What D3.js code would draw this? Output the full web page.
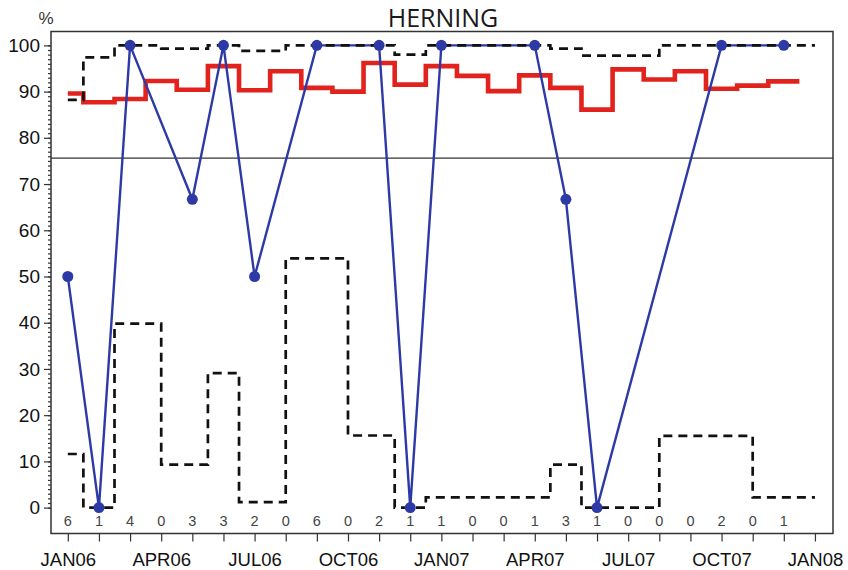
<!DOCTYPE html>
<html>
<head>
<meta charset="utf-8">
<script src="https://cdn.jsdelivr.net/npm/d3@7"></script>
<style>
  html, body { margin: 0; padding: 0; background: #fff; }
  svg { display: block; }
  text { font-family: "Liberation Sans", Arial, sans-serif; }
</style>
</head>
<body>
<svg id="chart" width="848" height="570"></svg>
<script>
// ---------- DATA ----------
const title = "HERNING";
const yUnit = "%";
const tickLabels = ["JAN06","APR06","JUL06","OCT06","JAN07","APR07","JUL07","OCT07","JAN08"];
// one entry per month, Jan 2006 .. Dec 2007
const counts   = [6,1,4,0,3,3,2,0,6,0,2,1, 1,0,0,1,3,1,0,0,0,2,0,1];
const observed = [50,0,100,null,66.7,100,50,null,100,null,100,0, 100,null,null,100,66.7,0,null,null,null,100,null,100];
const centre   = [89.6,87.7,88.4,92.3,90.4,95.5,90.3,94.4,90.8,90.0,96.2,91.5, 95.5,93.4,90.1,93.5,90.8,86.1,94.8,92.6,94.4,90.6,91.3,92.2];
const upper    = [88.2,97.4,100,null,99.3,100,98.8,null,100,null,100,98.0, 100,null,null,100,99.3,97.8,null,null,null,100,null,100];
const lower    = [11.6,0,39.8,null,9.3,29.1,1.2,null,53.9,null,15.6,0, 2.2,null,null,2.2,9.3,0,null,null,null,15.5,null,2.2];
const targetLine = 75.6;

// ---------- LAYOUT ----------
const svg = d3.select("#chart");
const frame = {left: 51, right: 833, top: 31.5, bottom: 533.5};
const x = d3.scaleLinear().domain([-0.54, 24.58]).range([frame.left, frame.right]);
const y = d3.scaleLinear().domain([-5.6, 103]).range([frame.bottom, frame.top]);

const BLUE = "#2d3aa6", RED = "#e2231d";

// title and unit
svg.append("text").attr("x", 443).attr("y", 27).attr("text-anchor", "middle")
  .style("font-family", "'Open Sans', 'Noto Sans', sans-serif").style("font-size", "25px").attr("fill", "#1a1a1a")
  .text(title);
svg.append("text").attr("x", 46).attr("y", 24).attr("text-anchor", "middle")
  .style("font-size", "17px").attr("fill", "#333").text(yUnit);

// frame
svg.append("rect").attr("x", frame.left).attr("y", frame.top)
  .attr("width", frame.right - frame.left).attr("height", frame.bottom - frame.top)
  .attr("fill", "none").attr("stroke", "#333").attr("stroke-width", 1.5);

// y axis: major + minor ticks
const yMajor = d3.axisLeft(y).tickValues(d3.range(0, 101, 10)).tickSize(7).tickPadding(4).tickFormat(d3.format("d"));
const yMinor = d3.axisLeft(y).tickValues(d3.range(0, 101, 1)).tickSize(3).tickFormat("");
const gyMinor = svg.append("g").attr("transform", `translate(${frame.left},0)`).call(yMinor);
const gy = svg.append("g").attr("transform", `translate(${frame.left},0)`).call(yMajor);
[gy, gyMinor].forEach(g => {
  g.select(".domain").remove();
  g.selectAll("line").attr("stroke", "#333").attr("stroke-width", 1.2);
});
gy.selectAll("text").style("font-size", "19px").attr("fill", "#111");

// x axis
const tickIdx = d3.range(0, 25);
const xAxis = d3.axisBottom(x).tickValues(tickIdx).tickSize(8).tickPadding(11)
  .tickFormat(i => i % 3 === 0 ? tickLabels[i / 3] : "");
const gx = svg.append("g").attr("transform", `translate(0,${frame.bottom})`).call(xAxis);
gx.select(".domain").remove();
gx.selectAll("line").attr("stroke", "#333").attr("stroke-width", 1.2);
gx.selectAll("text").style("font-size", "18.5px").attr("fill", "#111");

// count labels
svg.append("g").selectAll("text").data(counts).join("text")
  .attr("x", (d, i) => x(i)).attr("y", 526).attr("text-anchor", "middle")
  .style("font-size", "14.5px").attr("fill", "#444").text(d => d);

// target line
svg.append("line").attr("x1", frame.left).attr("x2", frame.right)
  .attr("y1", y(targetLine)).attr("y2", y(targetLine))
  .attr("stroke", "#333").attr("stroke-width", 1.3);

// helper: step series
function stepPoints(values, endIdx) {
  const pts = [];
  values.forEach((v, i) => { if (v !== null) pts.push([i, v]); });
  pts.push([endIdx, pts[pts.length - 1][1]]);
  return pts;
}
const stepLine = d3.line().x(d => x(d[0])).y(d => y(d[1])).curve(d3.curveStep);

// centre line (red)
svg.append("path").attr("d", stepLine(stepPoints(centre, centre.length - 0.5)))
  .attr("fill", "none").attr("stroke", RED).attr("stroke-width", 4.6);

// observed line (blue)
const obsPts = observed.map((v, i) => [i, v]).filter(d => d[1] !== null);
svg.append("path").attr("d", d3.line().x(d => x(d[0])).y(d => y(d[1]))(obsPts))
  .attr("fill", "none").attr("stroke", BLUE).attr("stroke-width", 2.4);

// limits (dashed black)
[upper, lower].forEach(arr => {
  svg.append("path").attr("d", stepLine(stepPoints(arr, counts.length)))
    .attr("fill", "none").attr("stroke", "#111").attr("stroke-width", 2.7)
    .attr("stroke-dasharray", "9,6");
});

// observed points
svg.append("g").selectAll("circle").data(obsPts).join("circle")
  .attr("cx", d => x(d[0])).attr("cy", d => y(d[1])).attr("r", 5.5).attr("fill", BLUE);
</script>
</body>
</html>
